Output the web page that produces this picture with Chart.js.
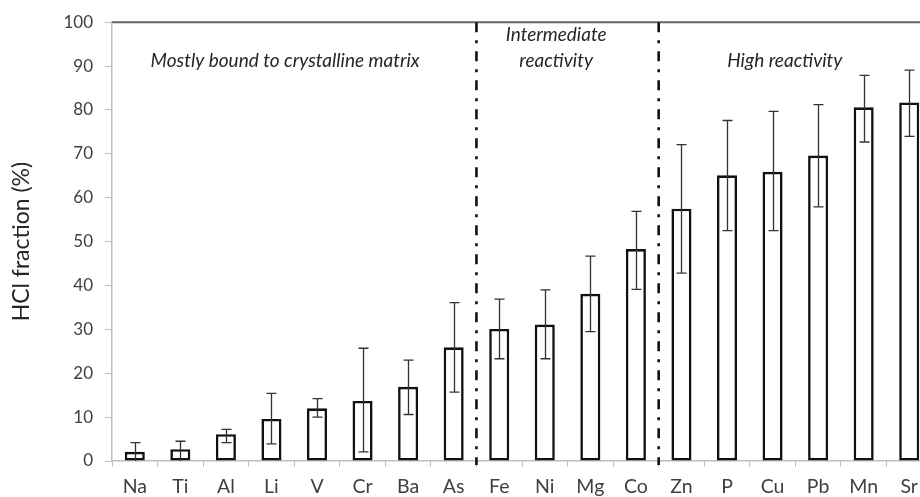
<!DOCTYPE html>
<html>
<head>
<meta charset="utf-8">
<script src="https://cdn.jsdelivr.net/npm/chart.js@4/dist/chart.umd.min.js"></script>
<style>
  html, body { margin: 0; padding: 0; background: #fff; overflow: hidden; }
  #wrap { width: 933px; height: 497px; }
</style>
</head>
<body>
<div id="wrap"><canvas id="myChart" width="933" height="497"></canvas></div>
<script>
const elements = ["Na", "Ti", "Al", "Li", "V", "Cr", "Ba", "As", "Fe", "Ni", "Mg", "Co", "Zn", "P", "Cu", "Pb", "Mn", "Sr"];
const hclFraction = [2.1, 2.7, 6.1, 9.6, 12.0, 13.7, 16.9, 25.9, 30.1, 31.1, 38.1, 48.3, 57.5, 65.1, 65.9, 69.6, 80.6, 81.7];
const errorLow = [0, 0, 4.2, 3.9, 10.0, 2.1, 10.6, 15.7, 23.3, 23.3, 29.5, 39.1, 42.8, 52.5, 52.5, 57.9, 72.7, 74.0];
const errorHigh = [4.2, 4.5, 7.2, 15.4, 14.2, 25.7, 23.0, 36.1, 36.9, 39.0, 46.7, 56.9, 72.1, 77.6, 79.7, 81.2, 87.9, 89.1];
const yTicks = [0, 10, 20, 30, 40, 50, 60, 70, 80, 90, 100];

// group boundaries sit between these category indexes
const dividers = [7.5, 11.5];
const groupLabels = [
  { lines: ["Mostly bound to crystalline matrix"], at: 3.3, y: [91.3] },
  { lines: ["Intermediate", "reactivity"], at: 9.25, y: [97.0, 91.3] },
  { lines: ["High reactivity"], at: 14.27, y: [91.3] },
];

const extras = {
  id: "extras",
  afterDatasetsDraw(chart) {
    const { ctx, chartArea, scales } = chart;
    const x = scales.x;
    const y = scales.y;

    ctx.save();

    // top frame line
    ctx.strokeStyle = "#666666";
    ctx.lineWidth = 2;
    ctx.beginPath();
    ctx.moveTo(chartArea.left, chartArea.top);
    ctx.lineTo(chartArea.right, chartArea.top);
    ctx.stroke();

    // error bars
    ctx.strokeStyle = "#333333";
    ctx.lineWidth = 1.3;
    hclFraction.forEach((v, i) => {
      const cx = Math.round(x.getPixelForValue(i)) + 0.5;
      const yl = y.getPixelForValue(errorLow[i]);
      const yh = y.getPixelForValue(errorHigh[i]);
      ctx.beginPath();
      ctx.moveTo(cx, yl);
      ctx.lineTo(cx, yh);
      ctx.moveTo(cx - 5, yh);
      ctx.lineTo(cx + 5, yh);
      if (errorLow[i] > 0) {
        ctx.moveTo(cx - 5, yl);
        ctx.lineTo(cx + 5, yl);
      }
      ctx.stroke();
    });

    // dash-dot dividers
    ctx.strokeStyle = "#111111";
    ctx.lineWidth = 2.6;
    ctx.setLineDash([10, 8, 3, 8]);
    dividers.forEach((d) => {
      const px = (x.getPixelForValue(Math.floor(d)) + x.getPixelForValue(Math.ceil(d))) / 2;
      ctx.beginPath();
      ctx.moveTo(px, chartArea.top);
      ctx.lineTo(px, chartArea.bottom + 4);
      ctx.stroke();
    });
    ctx.setLineDash([]);

    // group labels
    ctx.fillStyle = "#262626";
    ctx.font = "italic 19px Lato";
    ctx.textAlign = "center";
    ctx.textBaseline = "middle";
    groupLabels.forEach((g) => {
      const px = x.left + (g.at + 0.5) * (x.width / elements.length);
      g.lines.forEach((line, k) => {
        ctx.fillText(line, px, y.getPixelForValue(g.y[k]));
      });
    });

    ctx.restore();
  },
};

const chart = new Chart("myChart", {
  type: "bar",
  data: {
    labels: elements,
    datasets: [
      {
        data: hclFraction,
        backgroundColor: "#ffffff",
        borderColor: "#111111",
        borderWidth: 2.6,
        borderSkipped: false,
        barPercentage: 0.44,
        categoryPercentage: 1,
      },
    ],
  },
  options: {
    responsive: false,
    animation: false,
    layout: {
      padding: { top: 22, right: 1, left: 0, bottom: 0 },
    },
    plugins: {
      legend: { display: false },
      tooltip: { enabled: false },
    },
    scales: {
      x: {
        grid: {
          offset: true,
          drawOnChartArea: false,
          drawTicks: true,
          tickLength: 6,
          color: "#bfbfbf",
        },
        border: { color: "#bfbfbf", width: 1.5 },
        ticks: {
          color: "#404040",
          font: { family: "Lato", size: 19.5 },
          padding: 8,
          maxRotation: 0,
          autoSkip: false,
        },
        afterFit(scale) {
          scale.height = 36;
        },
      },
      y: {
        min: 0,
        max: 100,
        afterBuildTicks(scale) {
          scale.ticks = yTicks.map((v) => ({ value: v }));
        },
        grid: {
          drawOnChartArea: false,
          drawTicks: true,
          tickLength: 7,
          color: "#bfbfbf",
        },
        border: { color: "#bfbfbf", width: 1.5 },
        ticks: {
          color: "#404040",
          font: { family: "Lato", size: 17 },
          padding: 12,
        },
        title: {
          display: true,
          text: "HCl fraction (%)",
          color: "#262626",
          font: { family: "Lato", size: 23 },
          padding: { top: 8, bottom: 0 },
        },
        afterFit(scale) {
          scale.width = 112;
        },
      },
    },
  },
  plugins: [extras],
});
</script>
</body>
</html>
